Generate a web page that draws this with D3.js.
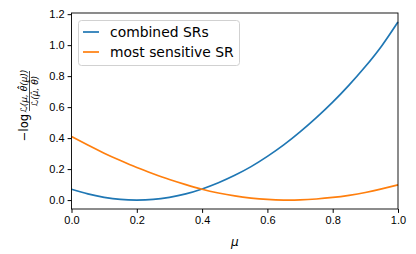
<!DOCTYPE html>
<html lang="en">
<head>
  <meta charset="UTF-8">
  <title>Profile likelihood ratio</title>
  <style>
    body { margin: 0; background: #fff; }
    svg { font-family: "DejaVu Sans", sans-serif; }
    .tick text { font-size: 11px; fill: #000; }
    .tick line { stroke: #000; }
    .domain { stroke: none; }
  </style>
  <script src="https://d3js.org/d3.v7.min.js"></script>
</head>
<body>
<div id="chart"></div>
<script>
  // mu grid and the two curves
  var mu = [0, 0.05, 0.1, 0.15, 0.2, 0.25, 0.3, 0.35, 0.4, 0.45, 0.5,
            0.55, 0.6, 0.65, 0.7, 0.75, 0.8, 0.85, 0.9, 0.95, 1.0];
  var combined = [0.070, 0.040, 0.018, 0.004, 0.000, 0.004, 0.018, 0.040, 0.072, 0.112, 0.160,
                  0.216, 0.282, 0.356, 0.440, 0.532, 0.632, 0.742, 0.862, 0.995, 1.150];
  var sensitive = [0.410, 0.355, 0.303, 0.255, 0.210, 0.170, 0.133, 0.100, 0.070, 0.046, 0.027,
                   0.013, 0.004, 0.000, 0.001, 0.007, 0.017, 0.031, 0.049, 0.072, 0.098];
  var seriesNames = ["combined SRs", "most sensitive SR"];
  var colors = ["#1f77b4", "#ff7f0e"];
  var xTicks = [0, 0.2, 0.4, 0.6, 0.8, 1.0];
  var yTicks = [0, 0.2, 0.4, 0.6, 0.8, 1.0, 1.2];

  var width = 416, height = 254;
  var margin = {top: 13, right: 18, bottom: 45, left: 71.5};

  var svg = d3.select("#chart").append("svg")
    .attr("width", width)
    .attr("height", height);

  var x = d3.scaleLinear().domain([0, 1]).range([margin.left, width - margin.right]);
  var y = d3.scaleLinear().domain([-0.0575, 1.2075]).range([height - margin.bottom, margin.top]);

  // axes
  svg.append("g")
    .attr("transform", `translate(0,${height - margin.bottom})`)
    .call(d3.axisBottom(x).tickValues(xTicks).tickFormat(d3.format(".1f")).tickSize(3.9).tickPadding(3));

  svg.append("g")
    .attr("transform", `translate(${margin.left},0)`)
    .call(d3.axisLeft(y).tickValues(yTicks).tickFormat(d3.format(".1f")).tickSize(3.9).tickPadding(3));

  // lines
  var line = d3.line().curve(d3.curveNatural)
    .x((d, i) => x(mu[i]))
    .y(d => y(d));

  [combined, sensitive].forEach((s, i) => {
    svg.append("path")
      .datum(s)
      .attr("fill", "none")
      .attr("stroke", colors[i])
      .attr("stroke-width", 1.7)
      .attr("d", line);
  });

  // frame
  svg.append("rect")
    .attr("x", margin.left)
    .attr("y", margin.top)
    .attr("width", width - margin.left - margin.right)
    .attr("height", height - margin.top - margin.bottom)
    .attr("fill", "none")
    .attr("stroke", "#000")
    .attr("stroke-width", 0.9);

  // legend
  var legend = svg.append("g");
  legend.append("rect")
    .attr("x", 78.5).attr("y", 20.5)
    .attr("width", 161).attr("height", 45)
    .attr("rx", 3)
    .attr("fill", "#fff").attr("fill-opacity", 0.8)
    .attr("stroke", "#ccc").attr("stroke-width", 0.9);
  seriesNames.forEach((name, i) => {
    var ly = 32 + i * 20;
    legend.append("line")
      .attr("x1", 83).attr("x2", 99)
      .attr("y1", ly).attr("y2", ly)
      .attr("stroke", colors[i]).attr("stroke-width", 1.7);
    legend.append("text")
      .attr("x", 110).attr("y", ly + 5)
      .attr("font-size", 13.9)
      .text(name);
  });

  // x label
  svg.append("text")
    .attr("x", x(0.5)).attr("y", 246)
    .attr("text-anchor", "middle")
    .attr("font-size", 12)
    .attr("font-style", "italic")
    .text("μ");

  // y label: -log L(mu, theta^^(mu)) / L(mu^, theta^)
  var yl = svg.append("g").attr("transform", "rotate(-90)");
  yl.append("text")
    .attr("x", -114).attr("y", 28)
    .attr("text-anchor", "end")
    .attr("font-size", 11.5)
    .text("−log");
  yl.append("line")
    .attr("x1", -111).attr("x2", -71)
    .attr("y1", 29.5).attr("y2", 29.5)
    .attr("stroke", "#000").attr("stroke-width", 0.7);
  yl.append("text")
    .attr("x", -91).attr("y", 27)
    .attr("text-anchor", "middle")
    .attr("font-size", 9)
    .attr("font-style", "italic")
    .text("ℒ(μ, θ\u0302\u0302(μ))");
  yl.append("text")
    .attr("x", -91).attr("y", 38)
    .attr("text-anchor", "middle")
    .attr("font-size", 9)
    .attr("font-style", "italic")
    .text("ℒ(μ\u0302, θ\u0302)");
</script>
</body>
</html>
